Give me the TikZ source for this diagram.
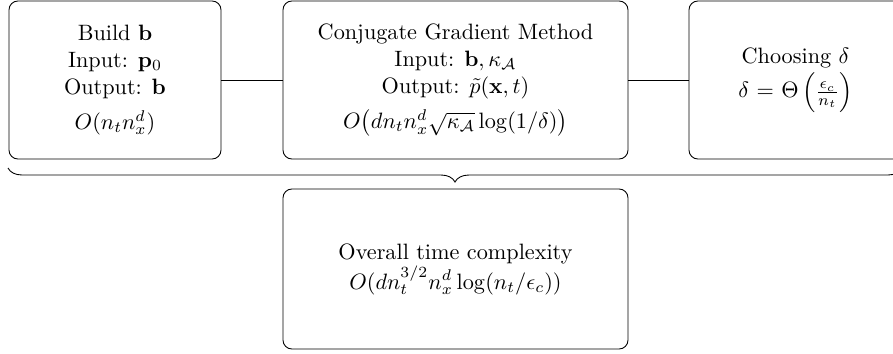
\documentclass[tikz,border=0pt]{standalone}
\usepackage{amsmath}
\usetikzlibrary{decorations.pathreplacing}

\begin{document}
\begin{tikzpicture}[x=0.45pt, y=0.45pt,
    stagebox/.style={draw, rounded corners=4pt, align=center,
      font={\fontsize{10}{12.2}\selectfont},
      minimum height=71.1pt, inner sep=2pt}]

  \useasboundingbox (0,0) rectangle (893,353);

  % --- TOP ROW: three stages ---
  \node[stagebox, minimum width=95.4pt] (build) at (115,273)
    {Build $\mathbf{b}$\\ Input: $\mathbf{p}_0$\\ Output: $\mathbf{b}$\\[3.5pt] $O(n_tn_x^d)$};
  \node[stagebox, minimum width=155.25pt] (cg) at (455.5,273)
    {Conjugate Gradient Method\\ Input: $\mathbf{b},\kappa_{\mathcal{A}}$\\
     Output: $\tilde{p}(\mathbf{x},t)$\\[3.5pt]
     $O\big(dn_tn_x^d\sqrt{\kappa_{\mathcal{A}}}\log(1/\delta)\big)$};
  \node[stagebox, minimum width=95.85pt] (delta) at (795.5,273)
    {Choosing $\delta$\\[1pt] $\delta$ = $\Theta\left(\frac{\epsilon_c}{n_t}\right)$};

  \draw (build) -- (cg);
  \draw (cg) -- (delta);

  % --- brace gathering the stages ---
  \coordinate (braceL) at (8,185);
  \coordinate (braceR) at (902,185);
  \draw[decorate, decoration={brace, mirror, amplitude=6.3pt}] (braceL) -- (braceR);

  % --- BOTTOM: total cost ---
  \node[stagebox, minimum width=155.25pt, minimum height=72pt] (total) at (455.5,84)
    {Overall time complexity\\ $O(dn_t^{3/2}n_x^d\log(n_t/\epsilon_c))$};

\end{tikzpicture}
\end{document}
